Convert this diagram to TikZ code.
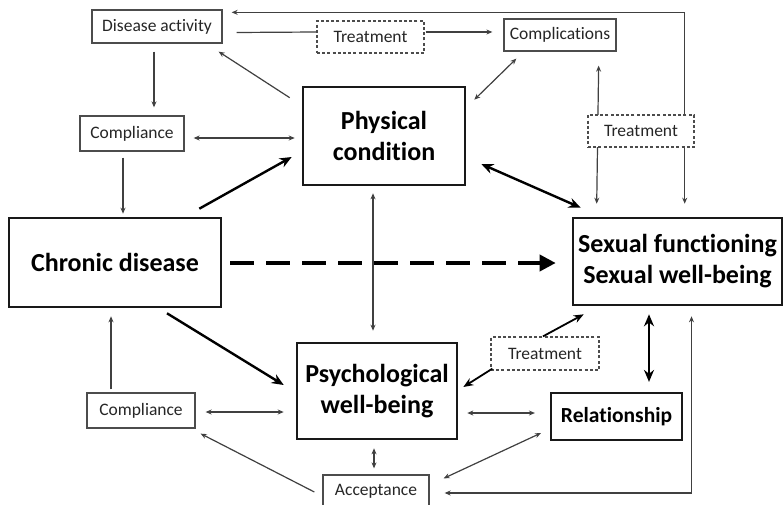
\documentclass[tikz,border=0pt]{standalone}
\usepackage{fontspec}
\setmainfont{Carlito}[Ligatures={NoCommon,NoRare,NoContextual},Contextuals=NoAlternate]
\usetikzlibrary{arrows.meta,calc}
\begin{document}
\begin{tikzpicture}[x=1pt,y=-1pt,
  bigbox/.style={draw=black!90,line width=2.6pt,fill=white,inner sep=0pt,align=center,
    font=\fontsize{26}{31}\selectfont\bfseries},
  smallbox/.style={draw=black!70,line width=1.3pt,fill=white,inner sep=0pt,align=center,
    font=\fontsize{17.5}{20}\selectfont,text=black!85},
  dashbox/.style={smallbox,dash pattern=on 3pt off 2.2pt},
  thinarr/.style={draw=black!75,line width=1.2pt,-{Stealth[length=6pt,width=5pt]}},
  thinbi/.style={draw=black!75,line width=1.2pt,{Stealth[length=6pt,width=5pt]}-{Stealth[length=6pt,width=5pt]}},
  thinline/.style={draw=black!75,line width=1.2pt},
  thickarr/.style={draw=black,line width=2.4pt,-{Stealth[length=12pt,width=10pt]}},
  thickbi/.style={draw=black,line width=2.4pt,{Stealth[length=12pt,width=10pt]}-{Stealth[length=12pt,width=10pt]}},
]
\fill[white] (0,0) rectangle (783,505);
\useasboundingbox (0,0) rectangle (783,505);

% main boxes
\node[bigbox,minimum width=212pt,minimum height=89pt] (cd) at (115,262.5) {Chronic disease};
\node[bigbox,minimum width=162pt,minimum height=98pt] (pc) at (384,136) {Physical\\condition};
\node[bigbox,minimum width=160pt,minimum height=96pt] (pw) at (377,391) {Psychological\\well-being};
\node[bigbox,minimum width=209pt,minimum height=87pt] (sf) at (677.5,261.5) {Sexual functioning\\Sexual well-being};
\node[bigbox,line width=2.2pt,minimum width=131pt,minimum height=47pt,font=\fontsize{21.5}{24}\selectfont\bfseries] (rl) at (616.5,416.5) {Relationship};

% small boxes
\node[smallbox,minimum width=130pt,minimum height=33pt] (da) at (157,26.5) {Disease activity};
\node[dashbox,minimum width=107pt,minimum height=32pt] (t1) at (370.5,37) {Treatment};
\node[smallbox,minimum width=112pt,minimum height=32pt] (cx) at (560,35) {Complications};
\node[smallbox,minimum width=104pt,minimum height=35pt] (c1) at (132,133.5) {Compliance};
\node[smallbox,minimum width=108pt,minimum height=35pt] (c2) at (141,410.5) {Compliance};
\node[dashbox,minimum width=108pt,minimum height=33pt] (t3) at (545,353.5) {Treatment};
\node[smallbox,minimum width=106pt,minimum height=32pt] (ac) at (376,491) {Acceptance};

% connectors that the right Treatment box sits on
\draw[thinbi] ($(sf.north west)+(113,-13)$) |- ($(da.north east)+(9,3)$);
\draw[thinbi] ($(cx.south east)+(-18,14)$) -- ($(sf.north west)+(25,-13)$);
\node[dashbox,minimum width=106pt,minimum height=32pt] (t2) at (641,131) {Treatment};

% top area
\draw[thinline] ($(da.east)+(14,6)$) -- ($(t1.west)+(0,-5)$);
\draw[thinarr] ($(t1.east)+(1,-5)$) -- ($(cx.west)+(-11,-3)$);
\draw[thinarr] ($(pc.north west)+(-12,12)$) -- ($(da.south east)+(-4,8)$);
\draw[thinarr] ($(da.south)+(-3,8)$) -- ($(c1.north)+(22,-8)$);
\draw[thinbi] ($(c1.east)+(9,4.5)$) -- ($(pc.west)+(-7,2)$);
\draw[thinarr] ($(c1.south)+(-9,6)$) -- ($(cd.north)+(8,-3)$);
\draw[thinbi] ($(cx.south west)+(13,7)$) -- ($(pc.north east)+(8,14)$);

% main arrows
\draw[thickarr] ($(cd.north east)+(-23,-8)$) -- ($(pc.west)+(-10,21)$);
\draw[thickbi] ($(sf.north west)+(9,-9)$) -- ($(pc.east)+(15,28)$);
\draw[thinbi] ($(pc.south)+(-11,7)$) -- ($(pw.north)+(-4,-11)$);
\draw[draw=black,line width=3.6pt,dash pattern=on 24pt off 12pt,-{Triangle[length=16pt,width=16pt]}]
  ($(cd.east)+(8,0.5)$) -- ($(sf.west)+(-16,1.5)$);
\draw[thickarr] ($(cd.south)+(52,5)$) -- ($(pw.west)+(-12,-6)$);

% bottom area
\draw[thinarr] ($(c2.north)+(-30,-3)$) -- ($(cd.south)+(-4,8)$);
\draw[thinbi] ($(c2.east)+(10,1.5)$) -- ($(pw.west)+(-12,21)$);
\draw[thinarr] ($(ac.west)+(-8,1)$) -- ($(c2.south east)+(5,5)$);
\draw[thinbi] ($(pw.south)+(-3,8)$) -- ($(ac.north)+(-2,-6)$);
\draw[thinbi] ($(pw.east)+(9,22)$) -- ($(rl.west)+(-15,-3.5)$);
\draw[thinbi] ($(ac.north east)+(14,4)$) -- ($(rl.south west)+(-9,-8)$);
\draw[thinbi] ($(sf.south)+(14,10)$) |- ($(ac.east)+(15,2)$);
\draw[thickbi] ($(sf.south)+(-28.5,8)$) -- ($(rl.north)+(32.5,-10)$);
\draw[draw=black,line width=1.8pt,-{Stealth[length=10pt,width=8pt]}] ($(t3.north)+(-2,0)$) -- ($(sf.south west)+(12,8)$);
\draw[draw=black,line width=1.8pt,-{Stealth[length=10pt,width=8pt]}] ($(t3.south west)+(2,-2)$) -- ($(pw.east)+(5,-4)$);
\end{tikzpicture}
\end{document}
